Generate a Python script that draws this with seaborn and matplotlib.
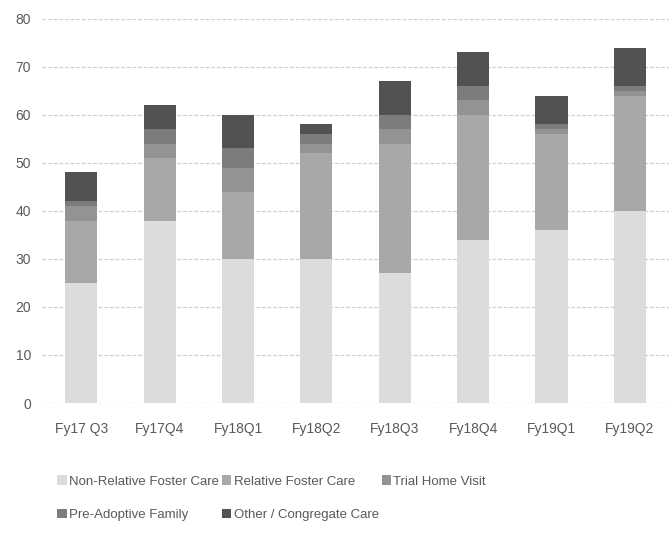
import matplotlib
matplotlib.use("Agg")
import matplotlib.pyplot as plt
import seaborn as sns
import pandas as pd
import numpy as np
from matplotlib.patches import Patch

quarters = ["Fy17 Q3", "Fy17Q4", "Fy18Q1", "Fy18Q2", "Fy18Q3", "Fy18Q4", "Fy19Q1", "Fy19Q2"]
non_relative = [25, 38, 30, 30, 27, 34, 36, 40]
relative = [13, 13, 14, 22, 27, 26, 20, 24]
trial_home = [3, 3, 5, 2, 3, 3, 1, 1]
pre_adoptive = [1, 3, 4, 2, 3, 3, 1, 1]
other = [6, 5, 7, 2, 7, 7, 6, 8]

series_names = ["Non-Relative Foster Care", "Relative Foster Care", "Trial Home Visit",
                "Pre-Adoptive Family", "Other / Congregate Care"]
series_vals = [non_relative, relative, trial_home, pre_adoptive, other]
colors = ["#dcdcdc", "#a8a8a8", "#939393", "#7c7c7c", "#525252"]

sns.set_theme(style="white")
plt.rcParams['font.family'] = ['Liberation Sans Narrow', 'Liberation Sans', 'DejaVu Sans']

df = pd.DataFrame(dict(zip(series_names, series_vals)), index=quarters)
cum = df.cumsum(axis=1)

fig = plt.figure(figsize=(6.69, 5.37), dpi=100)
ax = fig.add_axes([0.063, 0.2495, 0.937, 0.7155])

for name, col in zip(reversed(series_names), reversed(colors)):
    sns.barplot(x=quarters, y=cum[name].values, color=col, width=0.41,
                saturation=1, ax=ax, zorder=3, linewidth=0)

ax.set_ylim(0, 80)
ax.set_xlim(-0.5, 7.5)
ax.set_yticks(range(0, 81, 10))
ax.yaxis.grid(True, color="#cfcfcf", linestyle=(0, (3, 1.5)), linewidth=0.9, zorder=0)
ax.xaxis.grid(False)
for s in ax.spines.values():
    s.set_visible(False)
ax.tick_params(axis="both", length=0, labelsize=10, colors="#595959", pad=8)
ax.tick_params(axis="x", pad=14)
ax.set_xlabel("")
ax.set_ylabel("")

handles = [Patch(facecolor=c, edgecolor="none") for c in colors]
order = [0, 3, 1, 4, 2]
leg = fig.legend([handles[i] for i in order], [series_names[i] for i in order],
                 loc="upper left", bbox_to_anchor=(0.068, 0.137), ncol=3, frameon=False,
                 fontsize=9.5, handlelength=0.7, handleheight=0.7, handletextpad=0.2,
                 columnspacing=0.2, labelspacing=1.6)
for t in leg.get_texts():
    t.set_color("#595959")

fig.savefig("out.png", dpi=100)
